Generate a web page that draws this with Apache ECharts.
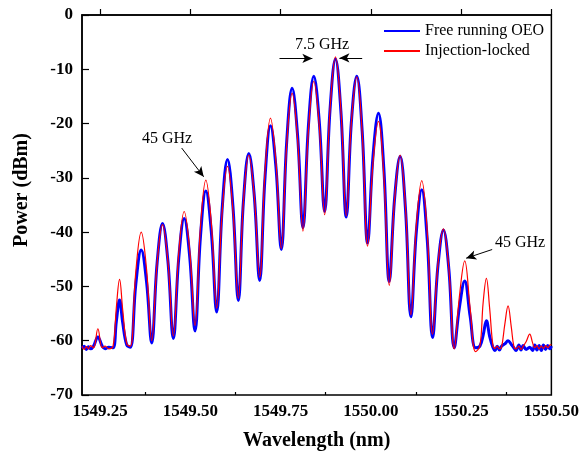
<!DOCTYPE html>
<html>
<head>
<meta charset="utf-8">
<script src="https://cdn.jsdelivr.net/npm/echarts@6/dist/echarts.min.js"></script>
<style>
  html, body { margin: 0; padding: 0; background: #fff; }
  #chart { width: 582px; height: 457px; }
</style>
</head>
<body>
<div id="chart"></div>
<script>
// wavelength sample points (nm): floor, peaks, flanks and valleys
const wavelength = [
  1549.200, 1549.206, 1549.212, 1549.218, 1549.224, 1549.232,
  1549.244, 1549.256, 1549.264, 1549.274, 1549.286, 1549.295,
  1549.304, 1549.313, 1549.324, 1549.334, 1549.349, 1549.364,
  1549.379, 1549.393, 1549.408, 1549.423, 1549.438, 1549.453,
  1549.468, 1549.483, 1549.498, 1549.513, 1549.528, 1549.543,
  1549.558, 1549.573, 1549.588, 1549.603, 1549.618, 1549.633,
  1549.647, 1549.662, 1549.677, 1549.692, 1549.707, 1549.722,
  1549.737, 1549.752, 1549.767, 1549.782, 1549.797, 1549.812,
  1549.827, 1549.842, 1549.857, 1549.872, 1549.887, 1549.902,
  1549.917, 1549.932, 1549.946, 1549.961, 1549.976, 1549.991,
  1550.006, 1550.021, 1550.036, 1550.051, 1550.066, 1550.081,
  1550.096, 1550.111, 1550.126, 1550.141, 1550.156, 1550.171,
  1550.186, 1550.201, 1550.216, 1550.231, 1550.245, 1550.260,
  1550.275, 1550.290, 1550.302, 1550.311, 1550.320, 1550.329,
  1550.338, 1550.344, 1550.350, 1550.356, 1550.362, 1550.371,
  1550.380, 1550.389, 1550.396, 1550.402, 1550.410, 1550.416,
  1550.422, 1550.430, 1550.440, 1550.448, 1550.454, 1550.460,
  1550.466, 1550.472, 1550.478, 1550.484, 1550.490, 1550.496,
  1550.500
];

// Free running OEO (dBm)
const freeRunning = [
  -61.4, -61.0, -61.6, -61.1, -61.5, -61.0,
  -59.3, -61.0, -61.5, -61.2, -61.3, -56.5,
  -52.5, -56.8, -60.8, -61.2, -49.6, -43.3,
  -49.3, -60.4, -45.7, -38.4, -45.4, -59.6,
  -44.8, -37.5, -44.3, -58.2, -40.9, -32.4,
  -39.8, -54.7, -35.9, -26.6, -35.2, -52.6,
  -34.4, -25.5, -33.2, -48.9, -29.8, -20.4,
  -27.9, -43.2, -23.3, -13.5, -22.1, -39.2,
  -20.5, -11.3, -19.5, -36.2, -17.4, -8.1,
  -17.7, -37.2, -19.8, -11.3, -21.4, -42.0,
  -26.0, -18.1, -28.3, -49.1, -33.6, -26.0,
  -35.8, -55.6, -39.9, -32.2, -41.2, -59.4,
  -46.1, -39.6, -46.8, -61.3, -54.0, -49.0,
  -55.5, -61.3, -61.0, -59.0, -56.3, -59.2,
  -61.2, -61.8, -61.0, -61.7, -61.0, -60.6,
  -60.0, -60.7, -61.3, -61.8, -60.8, -61.7,
  -60.9, -61.6, -61.2, -61.8, -60.8, -61.7,
  -60.9, -61.8, -60.8, -61.6, -60.9, -61.5,
  -61.0
];

// Injection-locked (dBm)
const injectionLocked = [
  -61.0, -61.6, -61.1, -61.5, -60.9, -61.3,
  -57.8, -61.3, -61.0, -61.5, -61.0, -54.0,
  -48.7, -54.5, -60.6, -61.0, -47.3, -40.0,
  -47.0, -60.0, -45.7, -38.6, -45.4, -59.1,
  -43.8, -36.2, -43.1, -57.2, -39.2, -30.4,
  -38.2, -54.0, -36.5, -27.9, -35.9, -52.2,
  -34.5, -25.8, -33.2, -48.3, -28.7, -19.0,
  -26.9, -43.0, -23.8, -14.4, -22.8, -39.8,
  -21.3, -12.2, -20.3, -36.8, -17.3, -7.7,
  -17.4, -37.0, -19.8, -11.4, -21.7, -42.6,
  -27.2, -19.6, -29.6, -49.8, -33.7, -25.8,
  -35.5, -55.2, -38.7, -30.5, -39.8, -58.8,
  -45.8, -39.4, -46.7, -61.5, -52.0, -45.3,
  -54.0, -62.0, -61.0, -53.0, -48.5, -54.0,
  -60.8, -61.4, -61.0, -61.5, -61.2, -57.0,
  -53.6, -57.5, -61.0, -61.5, -61.0, -61.6,
  -61.0, -60.2, -58.8, -60.4, -61.3, -60.9,
  -61.5, -61.0, -61.4, -60.9, -61.3, -60.8,
  -60.7
];

const majorTicks = [1549.25, 1549.5, 1549.75, 1550.0, 1550.25, 1550.5];
const minorTicks = [1549.375, 1549.625, 1549.875, 1550.125, 1550.375];

const serif = "'Liberation Serif', 'Times New Roman', serif";

const chart = echarts.init(document.getElementById('chart'));

function pairs(ys) {
  return wavelength.map((x, i) => [x, ys[i]]);
}

const arrowStyle = { color: '#000', width: 1, type: 'solid' };

chart.setOption({
  animation: false,
  grid: {
    left: 82, right: 29, top: 15, bottom: 62,
    show: true, borderColor: '#000', borderWidth: 1.5
  },
  legend: {
    orient: 'vertical',
    left: 383,
    top: 23,
    padding: 0,
    itemWidth: 36,
    itemHeight: 14,
    itemGap: 4,
    itemStyle: { opacity: 0 },
    textStyle: { fontFamily: serif, fontSize: 16, color: '#000', lineHeight: 16 },
    data: ['Free running OEO', 'Injection-locked']
  },
  xAxis: [
    {
      type: 'value',
      min: 1549.2,
      max: 1550.5,
      name: 'Wavelength (nm)',
      nameLocation: 'middle',
      nameGap: 36,
      nameTextStyle: { fontFamily: serif, fontSize: 20, fontWeight: 'bold', color: '#000' },
      axisLine: { lineStyle: { color: '#000', width: 1.5 } },
      axisTick: { inside: true, length: 6, customValues: majorTicks, lineStyle: { color: '#000', width: 1.2 } },
      axisLabel: {
        customValues: majorTicks,
        margin: 8,
        fontFamily: serif, fontSize: 17, fontWeight: 'bold', color: '#000',
        formatter: v => v.toFixed(2)
      },
      splitLine: { show: false }
    },
    {
      type: 'value',
      min: 1549.2,
      max: 1550.5,
      position: 'bottom',
      axisLine: { show: false },
      axisTick: { inside: true, length: 3, customValues: minorTicks, lineStyle: { color: '#000', width: 1.2 } },
      axisLabel: { show: false },
      splitLine: { show: false }
    }
  ],
  yAxis: {
    type: 'value',
    min: -70,
    max: 0,
    interval: 10,
    axisLine: { show: true, lineStyle: { color: '#000', width: 1.5 } },
    axisTick: { show: true, inside: true, length: 7, lineStyle: { color: '#000', width: 1.2 } },
    axisLabel: { margin: 9, fontFamily: serif, fontSize: 17, fontWeight: 'bold', color: '#000' },
    splitLine: { show: false }
  },
  graphic: [
    {
      type: 'text', x: 22, y: 190, rotation: Math.PI / 2,
      style: {
        text: 'Power (dBm)', fontFamily: serif, fontSize: 20, fontWeight: 'bold',
        fill: '#000', align: 'center', verticalAlign: 'middle'
      }
    },
    {
      type: 'text', x: 322, y: 45,
      style: { text: '7.5 GHz', fontFamily: serif, fontSize: 16, fill: '#000', align: 'center', verticalAlign: 'middle' }
    },
    {
      type: 'text', x: 167, y: 139,
      style: { text: '45 GHz', fontFamily: serif, fontSize: 16, fill: '#000', align: 'center', verticalAlign: 'middle' }
    },
    {
      type: 'text', x: 520, y: 243,
      style: { text: '45 GHz', fontFamily: serif, fontSize: 16, fill: '#000', align: 'center', verticalAlign: 'middle' }
    }
  ],
  series: [
    {
      name: 'Free running OEO',
      type: 'line',
      data: pairs(freeRunning),
      showSymbol: false,
      symbol: 'none',
      smooth: 0.4,
      lineStyle: { color: '#0000ff', width: 3 },
      itemStyle: { color: '#0000ff' },
      z: 2
    },
    {
      name: 'Injection-locked',
      type: 'line',
      data: pairs(injectionLocked),
      showSymbol: false,
      symbol: 'none',
      smooth: 0.4,
      lineStyle: { color: '#ff0000', width: 1.2 },
      itemStyle: { color: '#ff0000' },
      z: 3,
      markLine: {
        silent: true,
        symbol: ['none', 'arrow'],
        symbolSize: [7, 10],
        label: { show: false },
        lineStyle: arrowStyle,
        data: [
          [{ coord: [1549.747, -8.0] }, { coord: [1549.838, -8.0] }],
          [{ coord: [1549.976, -7.9] }, { coord: [1549.913, -7.9] }],
          [{ coord: [1549.476, -24.5] }, { coord: [1549.537, -29.8] }],
          [{ coord: [1550.336, -43.2] }, { coord: [1550.264, -44.8] }]
        ]
      }
    }
  ]
});
</script>
</body>
</html>
